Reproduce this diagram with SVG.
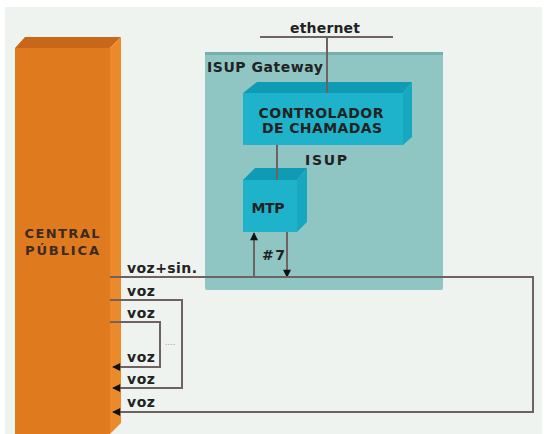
<svg xmlns="http://www.w3.org/2000/svg" width="547" height="434" viewBox="0 0 547 434">
<defs>
<style>
text{font-family:"DejaVu Sans","Verdana",sans-serif;font-weight:bold;fill:#222;}
.t13{font-size:14px;}
.cp{font-size:13px;fill:#3a2a20;}
.ln{stroke:#6e6262;stroke-width:2;fill:none;}
</style>
<marker id="al" viewBox="0 0 10 10" refX="9" refY="5" markerWidth="9" markerHeight="8" orient="auto" markerUnits="userSpaceOnUse">
<path d="M0,0 L10,5 L0,10 z" fill="#111"/>
</marker>
</defs>
<rect x="0" y="0" width="547" height="434" fill="#ffffff"/>
<rect x="5" y="7" width="537" height="427" fill="#eef3f0"/>

<g id="gateway">
<rect x="205" y="52" width="238" height="238" rx="2" fill="#8fc5c3"/>
<rect x="205" y="52" width="238" height="3" fill="#78afad"/>
<text class="t13" x="207" y="72" textLength="116">ISUP Gateway</text>
</g>

<g id="central">
<polygon points="15,48 25,37 121,37 110,48" fill="#c8661a"/>
<polygon points="110,48 121,37 121,423 110,434" fill="#eb8a2a"/>
<rect x="15" y="48" width="95" height="386" fill="#e07a1e"/>
<text class="cp" x="62" y="238" text-anchor="middle" textLength="75">CENTRAL</text>
<text class="cp" x="62" y="255" text-anchor="middle" textLength="74">PÚBLICA</text>
</g>

<g id="controlador">
<polygon points="243,93 257,82 412,82 403,93" fill="#0f9bb3"/>
<polygon points="403,93 412,82 412,137 403,145" fill="#17a8c0"/>
<rect x="243" y="93" width="160" height="52" fill="#1fb3cb"/>
<text class="t13" x="321" y="118" text-anchor="middle" textLength="125">CONTROLADOR</text>
<text class="t13" x="322" y="133" text-anchor="middle" textLength="120">DE CHAMADAS</text>
</g>

<g id="mtp">
<polygon points="243,180 255,168 307,168 297,180" fill="#0f9bb3"/>
<polygon points="297,180 307,168 307,222 297,232" fill="#17a8c0"/>
<rect x="243" y="180" width="54" height="52" fill="#1fb3cb"/>
<text class="t13" x="268" y="213" text-anchor="middle" textLength="33">MTP</text>
</g>

<g id="connectors">
<line class="ln" x1="260" y1="37" x2="393" y2="37"/>
<line class="ln" x1="327" y1="37" x2="327" y2="93"/>
<line class="ln" x1="277" y1="145" x2="277" y2="180"/>
<line class="ln" x1="254" y1="277" x2="254" y2="233" marker-end="url(#al)"/>
<line class="ln" x1="287" y1="232" x2="287" y2="277" marker-end="url(#al)"/>
<polyline class="ln" points="110,277 533,277 533,412 113,412" marker-end="url(#al)"/>
<polyline class="ln" points="110,300 182,300 182,388 113,388" marker-end="url(#al)"/>
<polyline class="ln" points="110,322 160,322 160,367 113,367" marker-end="url(#al)"/>
</g>

<g id="labels">
<text class="t13" x="290" y="33" textLength="70">ethernet</text>
<text class="t13" x="305" y="165" textLength="42">ISUP</text>
<text class="t13" x="262" y="260" textLength="23">#7</text>
<text class="t13" x="127" y="273" textLength="70">voz+sin.</text>
<text class="t13" x="127" y="296" textLength="28">voz</text>
<text class="t13" x="127" y="318" textLength="28">voz</text>
<text x="165" y="345" style="font-size:8px;font-weight:normal;fill:#999">....</text>
<text class="t13" x="127" y="362" textLength="28">voz</text>
<text class="t13" x="127" y="384" textLength="28">voz</text>
<text class="t13" x="127" y="407" textLength="28">voz</text>
</g>
</svg>
